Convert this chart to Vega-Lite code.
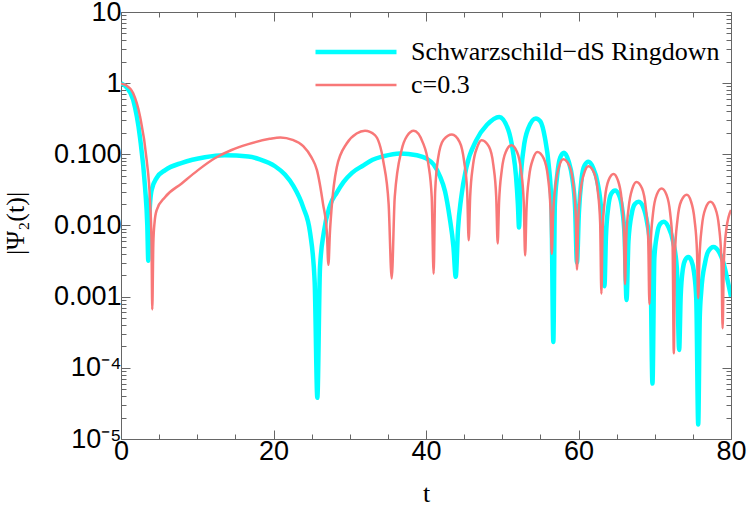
{
  "$schema": "https://vega.github.io/schema/vega-lite/v6.json",
  "autosize": {"type": "none"},
  "padding": {"left": 121, "top": 12, "right": 16, "bottom": 82},
  "width": 610,
  "height": 427,
  "background": "white",
  "config": {
    "view": {"stroke": null},
    "axis": {"domainColor": "#666666", "tickColor": "#666666", "labelColor": "black", "labelFont": "Liberation Sans", "labelFontSize": 27, "grid": false, "titleFont": "Liberation Serif", "titleFontSize": 26, "titleFontWeight": "normal", "titleColor": "black"},
    "legend": {"labelFont": "Liberation Serif", "labelFontSize": 26, "labelColor": "black", "labelLimit": 0}
  },
  "datasets": {
    "curves": [
      {"s": "Schwarzschild−dS Ringdown", "t": 0, "v": 1.0},
      {"s": "Schwarzschild−dS Ringdown", "t": 0.7, "v": 0.88},
      {"s": "Schwarzschild−dS Ringdown", "t": 1.6, "v": 0.58},
      {"s": "Schwarzschild−dS Ringdown", "t": 2.5, "v": 0.17},
      {"s": "Schwarzschild−dS Ringdown", "t": 3.15, "v": 0.035},
      {"s": "Schwarzschild−dS Ringdown", "t": 3.45, "v": 0.01},
      {"s": "Schwarzschild−dS Ringdown", "t": 3.58, "v": 0.0032},
      {"s": "Schwarzschild−dS Ringdown", "t": 3.7, "v": 0.012},
      {"s": "Schwarzschild−dS Ringdown", "t": 4.0, "v": 0.031},
      {"s": "Schwarzschild−dS Ringdown", "t": 4.7, "v": 0.047},
      {"s": "Schwarzschild−dS Ringdown", "t": 5.8, "v": 0.06},
      {"s": "Schwarzschild−dS Ringdown", "t": 8.0, "v": 0.076},
      {"s": "Schwarzschild−dS Ringdown", "t": 11.0, "v": 0.091},
      {"s": "Schwarzschild−dS Ringdown", "t": 13.6, "v": 0.097},
      {"s": "Schwarzschild−dS Ringdown", "t": 16.7, "v": 0.093},
      {"s": "Schwarzschild−dS Ringdown", "t": 18.2, "v": 0.085},
      {"s": "Schwarzschild−dS Ringdown", "t": 20.2, "v": 0.068},
      {"s": "Schwarzschild−dS Ringdown", "t": 21.5, "v": 0.052},
      {"s": "Schwarzschild−dS Ringdown", "t": 22.6, "v": 0.036},
      {"s": "Schwarzschild−dS Ringdown", "t": 23.9, "v": 0.018},
      {"s": "Schwarzschild−dS Ringdown", "t": 24.8, "v": 0.0079},
      {"s": "Schwarzschild−dS Ringdown", "t": 25.4, "v": 0.0016},
      {"s": "Schwarzschild−dS Ringdown", "t": 25.75, "v": 0.000038},
      {"s": "Schwarzschild−dS Ringdown", "t": 26.1, "v": 0.0026},
      {"s": "Schwarzschild−dS Ringdown", "t": 26.6, "v": 0.008},
      {"s": "Schwarzschild−dS Ringdown", "t": 27.4, "v": 0.019},
      {"s": "Schwarzschild−dS Ringdown", "t": 28.3, "v": 0.029},
      {"s": "Schwarzschild−dS Ringdown", "t": 29.2, "v": 0.041},
      {"s": "Schwarzschild−dS Ringdown", "t": 30.3, "v": 0.055},
      {"s": "Schwarzschild−dS Ringdown", "t": 31.8, "v": 0.07},
      {"s": "Schwarzschild−dS Ringdown", "t": 33.0, "v": 0.084},
      {"s": "Schwarzschild−dS Ringdown", "t": 34.4, "v": 0.094},
      {"s": "Schwarzschild−dS Ringdown", "t": 36.6, "v": 0.103},
      {"s": "Schwarzschild−dS Ringdown", "t": 38.8, "v": 0.097},
      {"s": "Schwarzschild−dS Ringdown", "t": 40.0, "v": 0.088},
      {"s": "Schwarzschild−dS Ringdown", "t": 41.0, "v": 0.072},
      {"s": "Schwarzschild−dS Ringdown", "t": 41.8, "v": 0.05},
      {"s": "Schwarzschild−dS Ringdown", "t": 42.5, "v": 0.03},
      {"s": "Schwarzschild−dS Ringdown", "t": 43.1, "v": 0.013},
      {"s": "Schwarzschild−dS Ringdown", "t": 43.6, "v": 0.005},
      {"s": "Schwarzschild−dS Ringdown", "t": 43.9, "v": 0.0019},
      {"s": "Schwarzschild−dS Ringdown", "t": 44.2, "v": 0.009},
      {"s": "Schwarzschild−dS Ringdown", "t": 44.6, "v": 0.024},
      {"s": "Schwarzschild−dS Ringdown", "t": 45.3, "v": 0.066},
      {"s": "Schwarzschild−dS Ringdown", "t": 46.6, "v": 0.158},
      {"s": "Schwarzschild−dS Ringdown", "t": 48.0, "v": 0.26},
      {"s": "Schwarzschild−dS Ringdown", "t": 49.6, "v": 0.336},
      {"s": "Schwarzschild−dS Ringdown", "t": 50.8, "v": 0.22},
      {"s": "Schwarzschild−dS Ringdown", "t": 51.4, "v": 0.11},
      {"s": "Schwarzschild−dS Ringdown", "t": 51.8, "v": 0.05},
      {"s": "Schwarzschild−dS Ringdown", "t": 52.05, "v": 0.02},
      {"s": "Schwarzschild−dS Ringdown", "t": 52.2, "v": 0.0094},
      {"s": "Schwarzschild−dS Ringdown", "t": 52.4, "v": 0.04},
      {"s": "Schwarzschild−dS Ringdown", "t": 52.8, "v": 0.12},
      {"s": "Schwarzschild−dS Ringdown", "t": 53.4, "v": 0.23},
      {"s": "Schwarzschild−dS Ringdown", "t": 54.4, "v": 0.32},
      {"s": "Schwarzschild−dS Ringdown", "t": 55.0, "v": 0.29},
      {"s": "Schwarzschild−dS Ringdown", "t": 55.6, "v": 0.17},
      {"s": "Schwarzschild−dS Ringdown", "t": 56.1, "v": 0.07},
      {"s": "Schwarzschild−dS Ringdown", "t": 56.45, "v": 0.02},
      {"s": "Schwarzschild−dS Ringdown", "t": 56.7, "v": 0.00023},
      {"s": "Schwarzschild−dS Ringdown", "t": 56.9, "v": 0.02},
      {"s": "Schwarzschild−dS Ringdown", "t": 57.2, "v": 0.05},
      {"s": "Schwarzschild−dS Ringdown", "t": 57.6, "v": 0.09},
      {"s": "Schwarzschild−dS Ringdown", "t": 58.1, "v": 0.105},
      {"s": "Schwarzschild−dS Ringdown", "t": 58.7, "v": 0.08},
      {"s": "Schwarzschild−dS Ringdown", "t": 59.2, "v": 0.045},
      {"s": "Schwarzschild−dS Ringdown", "t": 59.55, "v": 0.018},
      {"s": "Schwarzschild−dS Ringdown", "t": 59.8, "v": 0.003},
      {"s": "Schwarzschild−dS Ringdown", "t": 60.05, "v": 0.015},
      {"s": "Schwarzschild−dS Ringdown", "t": 60.4, "v": 0.045},
      {"s": "Schwarzschild−dS Ringdown", "t": 60.8, "v": 0.07},
      {"s": "Schwarzschild−dS Ringdown", "t": 61.3, "v": 0.0785},
      {"s": "Schwarzschild−dS Ringdown", "t": 61.9, "v": 0.065},
      {"s": "Schwarzschild−dS Ringdown", "t": 62.5, "v": 0.04},
      {"s": "Schwarzschild−dS Ringdown", "t": 63.0, "v": 0.015},
      {"s": "Schwarzschild−dS Ringdown", "t": 63.4, "v": 0.0014},
      {"s": "Schwarzschild−dS Ringdown", "t": 63.6, "v": 0.007},
      {"s": "Schwarzschild−dS Ringdown", "t": 63.9, "v": 0.018},
      {"s": "Schwarzschild−dS Ringdown", "t": 64.3, "v": 0.028},
      {"s": "Schwarzschild−dS Ringdown", "t": 64.8, "v": 0.031},
      {"s": "Schwarzschild−dS Ringdown", "t": 65.3, "v": 0.027},
      {"s": "Schwarzschild−dS Ringdown", "t": 65.7, "v": 0.018},
      {"s": "Schwarzschild−dS Ringdown", "t": 66.05, "v": 0.007},
      {"s": "Schwarzschild−dS Ringdown", "t": 66.3, "v": 0.0009},
      {"s": "Schwarzschild−dS Ringdown", "t": 66.55, "v": 0.006},
      {"s": "Schwarzschild−dS Ringdown", "t": 67.0, "v": 0.015},
      {"s": "Schwarzschild−dS Ringdown", "t": 67.4, "v": 0.02},
      {"s": "Schwarzschild−dS Ringdown", "t": 67.9, "v": 0.0215},
      {"s": "Schwarzschild−dS Ringdown", "t": 68.5, "v": 0.018},
      {"s": "Schwarzschild−dS Ringdown", "t": 69.0, "v": 0.011},
      {"s": "Schwarzschild−dS Ringdown", "t": 69.4, "v": 0.005},
      {"s": "Schwarzschild−dS Ringdown", "t": 69.7, "v": 0.00006},
      {"s": "Schwarzschild−dS Ringdown", "t": 69.95, "v": 0.0035},
      {"s": "Schwarzschild−dS Ringdown", "t": 70.3, "v": 0.0075},
      {"s": "Schwarzschild−dS Ringdown", "t": 70.7, "v": 0.0105},
      {"s": "Schwarzschild−dS Ringdown", "t": 71.2, "v": 0.0113},
      {"s": "Schwarzschild−dS Ringdown", "t": 71.8, "v": 0.0095},
      {"s": "Schwarzschild−dS Ringdown", "t": 72.4, "v": 0.006},
      {"s": "Schwarzschild−dS Ringdown", "t": 72.9, "v": 0.0025},
      {"s": "Schwarzschild−dS Ringdown", "t": 73.2, "v": 0.000178},
      {"s": "Schwarzschild−dS Ringdown", "t": 73.4, "v": 0.001},
      {"s": "Schwarzschild−dS Ringdown", "t": 73.7, "v": 0.0025},
      {"s": "Schwarzschild−dS Ringdown", "t": 74.0, "v": 0.0033},
      {"s": "Schwarzschild−dS Ringdown", "t": 74.4, "v": 0.0036},
      {"s": "Schwarzschild−dS Ringdown", "t": 74.8, "v": 0.0032},
      {"s": "Schwarzschild−dS Ringdown", "t": 75.15, "v": 0.0022},
      {"s": "Schwarzschild−dS Ringdown", "t": 75.45, "v": 0.0009},
      {"s": "Schwarzschild−dS Ringdown", "t": 75.7, "v": 0.000016},
      {"s": "Schwarzschild−dS Ringdown", "t": 75.9, "v": 0.0005},
      {"s": "Schwarzschild−dS Ringdown", "t": 76.1, "v": 0.0012},
      {"s": "Schwarzschild−dS Ringdown", "t": 76.6, "v": 0.003},
      {"s": "Schwarzschild−dS Ringdown", "t": 77.0, "v": 0.0043},
      {"s": "Schwarzschild−dS Ringdown", "t": 77.7, "v": 0.005},
      {"s": "Schwarzschild−dS Ringdown", "t": 78.4, "v": 0.0043},
      {"s": "Schwarzschild−dS Ringdown", "t": 79.0, "v": 0.003},
      {"s": "Schwarzschild−dS Ringdown", "t": 79.5, "v": 0.0018},
      {"s": "Schwarzschild−dS Ringdown", "t": 80.0, "v": 0.001},
      {"s": "c=0.3", "t": 0, "v": 0.98},
      {"s": "c=0.3", "t": 0.7, "v": 0.93},
      {"s": "c=0.3", "t": 1.6, "v": 0.72},
      {"s": "c=0.3", "t": 2.5, "v": 0.34},
      {"s": "c=0.3", "t": 3.37, "v": 0.083},
      {"s": "c=0.3", "t": 3.8, "v": 0.023},
      {"s": "c=0.3", "t": 4.0, "v": 0.006},
      {"s": "c=0.3", "t": 4.1, "v": 0.00066},
      {"s": "c=0.3", "t": 4.24, "v": 0.0056},
      {"s": "c=0.3", "t": 4.4, "v": 0.011},
      {"s": "c=0.3", "t": 4.68, "v": 0.0165},
      {"s": "c=0.3", "t": 5.77, "v": 0.025},
      {"s": "c=0.3", "t": 7.96, "v": 0.039},
      {"s": "c=0.3", "t": 10.1, "v": 0.06},
      {"s": "c=0.3", "t": 12.3, "v": 0.088},
      {"s": "c=0.3", "t": 14.5, "v": 0.115},
      {"s": "c=0.3", "t": 16.7, "v": 0.139},
      {"s": "c=0.3", "t": 19.5, "v": 0.165},
      {"s": "c=0.3", "t": 20.9, "v": 0.173},
      {"s": "c=0.3", "t": 22.5, "v": 0.16},
      {"s": "c=0.3", "t": 23.9, "v": 0.13},
      {"s": "c=0.3", "t": 25.0, "v": 0.09},
      {"s": "c=0.3", "t": 25.7, "v": 0.06},
      {"s": "c=0.3", "t": 26.5, "v": 0.02},
      {"s": "c=0.3", "t": 27.0, "v": 0.008},
      {"s": "c=0.3", "t": 27.2, "v": 0.0028},
      {"s": "c=0.3", "t": 27.4, "v": 0.008},
      {"s": "c=0.3", "t": 27.6, "v": 0.0165},
      {"s": "c=0.3", "t": 28.3, "v": 0.066},
      {"s": "c=0.3", "t": 29.6, "v": 0.142},
      {"s": "c=0.3", "t": 30.9, "v": 0.196},
      {"s": "c=0.3", "t": 32.0, "v": 0.214},
      {"s": "c=0.3", "t": 33.3, "v": 0.186},
      {"s": "c=0.3", "t": 34.4, "v": 0.08},
      {"s": "c=0.3", "t": 35.1, "v": 0.02},
      {"s": "c=0.3", "t": 35.5, "v": 0.0018},
      {"s": "c=0.3", "t": 35.9, "v": 0.025},
      {"s": "c=0.3", "t": 36.8, "v": 0.115},
      {"s": "c=0.3", "t": 37.5, "v": 0.18},
      {"s": "c=0.3", "t": 38.4, "v": 0.214},
      {"s": "c=0.3", "t": 39.6, "v": 0.145},
      {"s": "c=0.3", "t": 40.3, "v": 0.074},
      {"s": "c=0.3", "t": 40.75, "v": 0.025},
      {"s": "c=0.3", "t": 41.0, "v": 0.0021},
      {"s": "c=0.3", "t": 41.2, "v": 0.03},
      {"s": "c=0.3", "t": 41.6, "v": 0.09},
      {"s": "c=0.3", "t": 42.3, "v": 0.16},
      {"s": "c=0.3", "t": 43.4, "v": 0.19},
      {"s": "c=0.3", "t": 44.4, "v": 0.15},
      {"s": "c=0.3", "t": 45.0, "v": 0.08},
      {"s": "c=0.3", "t": 45.4, "v": 0.03},
      {"s": "c=0.3", "t": 45.6, "v": 0.0062},
      {"s": "c=0.3", "t": 45.79, "v": 0.025},
      {"s": "c=0.3", "t": 46.17, "v": 0.071},
      {"s": "c=0.3", "t": 46.74, "v": 0.128},
      {"s": "c=0.3", "t": 47.3, "v": 0.158},
      {"s": "c=0.3", "t": 48.26, "v": 0.128},
      {"s": "c=0.3", "t": 48.83, "v": 0.071},
      {"s": "c=0.3", "t": 49.21, "v": 0.025},
      {"s": "c=0.3", "t": 49.4, "v": 0.0056},
      {"s": "c=0.3", "t": 49.58, "v": 0.021},
      {"s": "c=0.3", "t": 49.94, "v": 0.06},
      {"s": "c=0.3", "t": 50.48, "v": 0.109},
      {"s": "c=0.3", "t": 51.2, "v": 0.134},
      {"s": "c=0.3", "t": 51.92, "v": 0.109},
      {"s": "c=0.3", "t": 52.46, "v": 0.06},
      {"s": "c=0.3", "t": 52.82, "v": 0.021},
      {"s": "c=0.3", "t": 53.0, "v": 0.0038},
      {"s": "c=0.3", "t": 53.18, "v": 0.017},
      {"s": "c=0.3", "t": 53.53, "v": 0.049},
      {"s": "c=0.3", "t": 54.05, "v": 0.087},
      {"s": "c=0.3", "t": 54.6, "v": 0.108},
      {"s": "c=0.3", "t": 55.45, "v": 0.087},
      {"s": "c=0.3", "t": 55.98, "v": 0.049},
      {"s": "c=0.3", "t": 56.33, "v": 0.017},
      {"s": "c=0.3", "t": 56.5, "v": 0.004},
      {"s": "c=0.3", "t": 56.67, "v": 0.014},
      {"s": "c=0.3", "t": 57.0, "v": 0.038},
      {"s": "c=0.3", "t": 57.49, "v": 0.069},
      {"s": "c=0.3", "t": 58.0, "v": 0.085},
      {"s": "c=0.3", "t": 58.81, "v": 0.069},
      {"s": "c=0.3", "t": 59.31, "v": 0.038},
      {"s": "c=0.3", "t": 59.64, "v": 0.014},
      {"s": "c=0.3", "t": 59.8, "v": 0.0024},
      {"s": "c=0.3", "t": 59.96, "v": 0.011},
      {"s": "c=0.3", "t": 60.28, "v": 0.031},
      {"s": "c=0.3", "t": 60.76, "v": 0.055},
      {"s": "c=0.3", "t": 61.3, "v": 0.068},
      {"s": "c=0.3", "t": 62.04, "v": 0.055},
      {"s": "c=0.3", "t": 62.52, "v": 0.031},
      {"s": "c=0.3", "t": 62.84, "v": 0.011},
      {"s": "c=0.3", "t": 63.0, "v": 0.0011},
      {"s": "c=0.3", "t": 63.16, "v": 0.0085},
      {"s": "c=0.3", "t": 63.47, "v": 0.024},
      {"s": "c=0.3", "t": 63.93, "v": 0.043},
      {"s": "c=0.3", "t": 64.6, "v": 0.053},
      {"s": "c=0.3", "t": 65.17, "v": 0.043},
      {"s": "c=0.3", "t": 65.64, "v": 0.024},
      {"s": "c=0.3", "t": 65.95, "v": 0.0085},
      {"s": "c=0.3", "t": 66.1, "v": 0.0015},
      {"s": "c=0.3", "t": 66.26, "v": 0.0066},
      {"s": "c=0.3", "t": 66.58, "v": 0.018},
      {"s": "c=0.3", "t": 67.06, "v": 0.033},
      {"s": "c=0.3", "t": 67.6, "v": 0.041},
      {"s": "c=0.3", "t": 68.34, "v": 0.033},
      {"s": "c=0.3", "t": 68.82, "v": 0.018},
      {"s": "c=0.3", "t": 69.14, "v": 0.0066},
      {"s": "c=0.3", "t": 69.3, "v": 0.00079},
      {"s": "c=0.3", "t": 69.46, "v": 0.0053},
      {"s": "c=0.3", "t": 69.78, "v": 0.015},
      {"s": "c=0.3", "t": 70.26, "v": 0.027},
      {"s": "c=0.3", "t": 70.9, "v": 0.033},
      {"s": "c=0.3", "t": 71.54, "v": 0.027},
      {"s": "c=0.3", "t": 72.02, "v": 0.015},
      {"s": "c=0.3", "t": 72.34, "v": 0.0053},
      {"s": "c=0.3", "t": 72.5, "v": 0.00016},
      {"s": "c=0.3", "t": 72.66, "v": 0.0043},
      {"s": "c=0.3", "t": 72.98, "v": 0.012},
      {"s": "c=0.3", "t": 73.46, "v": 0.022},
      {"s": "c=0.3", "t": 74.2, "v": 0.027},
      {"s": "c=0.3", "t": 74.74, "v": 0.022},
      {"s": "c=0.3", "t": 75.22, "v": 0.012},
      {"s": "c=0.3", "t": 75.54, "v": 0.0043},
      {"s": "c=0.3", "t": 75.7, "v": 0.00095},
      {"s": "c=0.3", "t": 75.86, "v": 0.0034},
      {"s": "c=0.3", "t": 76.18, "v": 0.0097},
      {"s": "c=0.3", "t": 76.66, "v": 0.0174},
      {"s": "c=0.3", "t": 77.3, "v": 0.0215},
      {"s": "c=0.3", "t": 77.94, "v": 0.0174},
      {"s": "c=0.3", "t": 78.42, "v": 0.0097},
      {"s": "c=0.3", "t": 78.74, "v": 0.0034},
      {"s": "c=0.3", "t": 78.9, "v": 0.00036},
      {"s": "c=0.3", "t": 79.06, "v": 0.003},
      {"s": "c=0.3", "t": 79.4, "v": 0.009},
      {"s": "c=0.3", "t": 80.0, "v": 0.0165}
    ]
  },
  "data": {"name": "curves"},
  "layer": [
    {
      "mark": {"type": "line", "interpolate": "monotone", "clip": true},
      "encoding": {
        "x": {"field": "t", "type": "quantitative",
          "scale": {"domain": [0, 80], "nice": false, "zero": false},
          "axis": {"orient": "bottom", "values": [0,5,10,15,20,25,30,35,40,45,50,55,60,65,70,75,80],
            "labelExpr": "datum.value % 20 == 0 ? datum.label : ''",
            "tickSize": {"condition": {"test": "datum.value % 20 == 0", "value": -9}, "value": -5},
            "labelPadding": 8, "labelFlush": false, "labelOverlap": false,
            "title": "t", "titleY": 54, "titleBaseline": "middle"}},
        "y": {"field": "v", "type": "quantitative",
          "scale": {"type": "log", "domain": [0.00001, 10], "nice": false},
          "axis": {"orient": "left",
            "values": [0.00001,0.00002,0.00003,0.00004,0.00005,0.00006,0.00007,0.00008,0.00009,0.0001,0.0002,0.0003,0.0004,0.0005,0.0006,0.0007,0.0008,0.0009,0.001,0.002,0.003,0.004,0.005,0.006,0.007,0.008,0.009,0.01,0.02,0.03,0.04,0.05,0.06,0.07,0.08,0.09,0.1,0.2,0.3,0.4,0.5,0.6,0.7,0.8,0.9,1,2,3,4,5,6,7,8,9,10],
            "labelExpr": "datum.value == 10 ? '10' : datum.value == 1 ? '1' : abs(datum.value - 0.1) < 1e-9 ? '0.100' : abs(datum.value - 0.01) < 1e-10 ? '0.010' : abs(datum.value - 0.001) < 1e-11 ? '0.001' : abs(datum.value - 0.0001) < 1e-12 ? '10⁻⁴' : abs(datum.value - 0.00001) < 1e-13 ? '10⁻⁵' : ''",
            "tickSize": {"condition": {"test": "abs(log(datum.value)/log(10) - round(log(datum.value)/log(10))) < 0.001", "value": -9}, "value": -5},
            "labelPadding": 9, "labelOverlap": false, "labelFlush": false,
            "title": "|Ψ₂(t)|", "titleX": -106, "titleY": 211, "titleAngle": -90, "titleAlign": "center", "titleBaseline": "middle"}},
        "color": {"field": "s", "type": "nominal",
          "scale": {"domain": ["Schwarzschild−dS Ringdown", "c=0.3"], "range": ["#00FFFF", "#F87878"]},
          "legend": {"title": null, "orient": "none", "legendX": 222, "legendY": 27, "symbolType": "M-4,0H4", "symbolSize": 410, "symbolFillColor": "transparent", "labelOffset": 42, "rowPadding": 7}},
        "strokeWidth": {"field": "s", "type": "nominal",
          "scale": {"domain": ["Schwarzschild−dS Ringdown", "c=0.3"], "range": [4.5, 2.5]},
          "legend": {"title": null, "orient": "none", "legendX": 222, "legendY": 27, "symbolType": "M-4,0H4", "symbolSize": 410, "symbolFillColor": "transparent", "labelOffset": 42, "rowPadding": 7}}
      }
    },
    {
      "mark": {"type": "line", "opacity": 0},
      "encoding": {
        "x": {"field": "t", "type": "quantitative",
          "axis": {"orient": "top", "values": [0,5,10,15,20,25,30,35,40,45,50,55,60,65,70,75,80], "labels": false, "title": null,
            "tickSize": {"condition": {"test": "datum.value % 20 == 0", "value": -9}, "value": -5}}},
        "y": {"field": "v", "type": "quantitative",
          "axis": {"orient": "right",
            "values": [0.00001,0.00002,0.00003,0.00004,0.00005,0.00006,0.00007,0.00008,0.00009,0.0001,0.0002,0.0003,0.0004,0.0005,0.0006,0.0007,0.0008,0.0009,0.001,0.002,0.003,0.004,0.005,0.006,0.007,0.008,0.009,0.01,0.02,0.03,0.04,0.05,0.06,0.07,0.08,0.09,0.1,0.2,0.3,0.4,0.5,0.6,0.7,0.8,0.9,1,2,3,4,5,6,7,8,9,10],
            "labels": false, "title": null,
            "tickSize": {"condition": {"test": "abs(log(datum.value)/log(10) - round(log(datum.value)/log(10))) < 0.001", "value": -9}, "value": -5}}},
        "detail": {"field": "s", "type": "nominal"}
      }
    }
  ],
  "resolve": {"axis": {"x": "independent", "y": "independent"}}
}
